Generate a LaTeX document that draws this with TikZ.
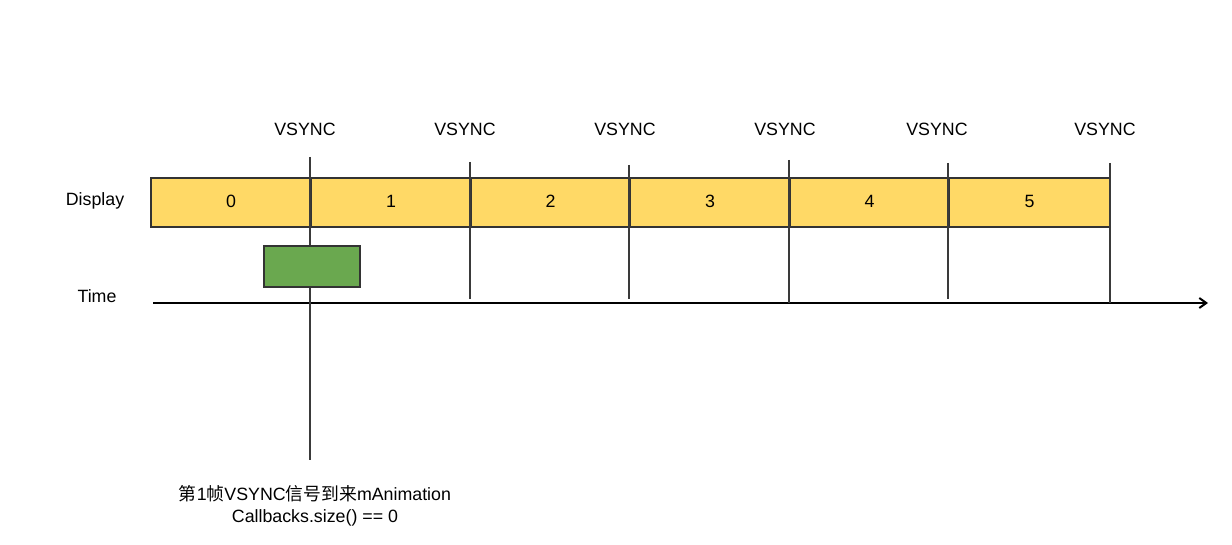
\documentclass[tikz,border=0pt]{standalone}
\usepackage{fontspec}
\setmainfont{Liberation Sans}
\newfontfamily\cjk{Noto Sans CJK SC}
\usetikzlibrary{arrows.meta}
\definecolor{barfill}{HTML}{FFD966}
\definecolor{boxfill}{HTML}{6AA84F}
\definecolor{edge}{HTML}{333333}
\definecolor{tick}{HTML}{3A3A3A}
\tikzset{
  cell/.style={draw=edge, line width=2pt, fill=barfill, minimum height=49pt, inner sep=0pt, anchor=north west},
  lbl/.style={font=\fontsize{17.8}{21}\selectfont, inner sep=0pt},
  vline/.style={draw=tick, line width=2pt},
}
\begin{document}
\begin{tikzpicture}[x=1pt,y=-1pt]
\useasboundingbox (0,0) rectangle (1232,545);
% display frames
\node[cell, minimum width=160pt] (c0) at (150,177) {};
\node[cell, minimum width=160pt] (c1) at (310,177) {};
\node[cell, minimum width=159pt] (c2) at (470,177) {};
\node[cell, minimum width=160pt] (c3) at (629,177) {};
\node[cell, minimum width=159pt] (c4) at (789,177) {};
\node[cell, minimum width=161pt] (c5) at (948,177) {};
\foreach \i in {0,...,5} {\node[lbl] at ([yshift=1.5pt]c\i.center) {\i};}
% time axis
\coordinate (t0) at (153,303);
\coordinate (t1) at (1208,303);
\draw[line width=2pt, -{Straight Barb[length=7pt,width=10pt]}] (t0) -- (t1);
% vsync markers
\coordinate (v0a) at (310,157); \coordinate (v0b) at (310,460);
\coordinate (v1a) at (470,162); \coordinate (v1b) at (470,299);
\coordinate (v2a) at (629,165); \coordinate (v2b) at (629,299);
\coordinate (v3a) at (789,160); \coordinate (v3b) at (789,303);
\coordinate (v4a) at (948,163); \coordinate (v4b) at (948,299);
\coordinate (v5a) at (1110,163); \coordinate (v5b) at (1110,303);
\foreach \i in {0,...,5} {\draw[vline] (v\i a) -- (v\i b);}
% callback box, drawn over the first marker
\node[draw=edge, line width=2pt, fill=boxfill, minimum width=96pt, minimum height=41pt, inner sep=0pt, anchor=north west] (cb) at (263,245) {};
% labels
\node[lbl] (s0) at (305,129) {VSYNC};
\node[lbl] (s1) at (465,129) {VSYNC};
\node[lbl] (s2) at (625,129) {VSYNC};
\node[lbl] (s3) at (785,129) {VSYNC};
\node[lbl] (s4) at (937,129) {VSYNC};
\node[lbl] (s5) at (1105,129) {VSYNC};
\node[lbl] (disp) at (95,201) {Display};
\node[lbl] (time) at (97,296) {Time};
\node[lbl, align=center] (note) at (315,506) {{\cjk 第}1{\cjk 帧}VSYNC{\cjk 信号到来}mAnimation\\[1pt]Callbacks.size() == 0};
\end{tikzpicture}
\end{document}
